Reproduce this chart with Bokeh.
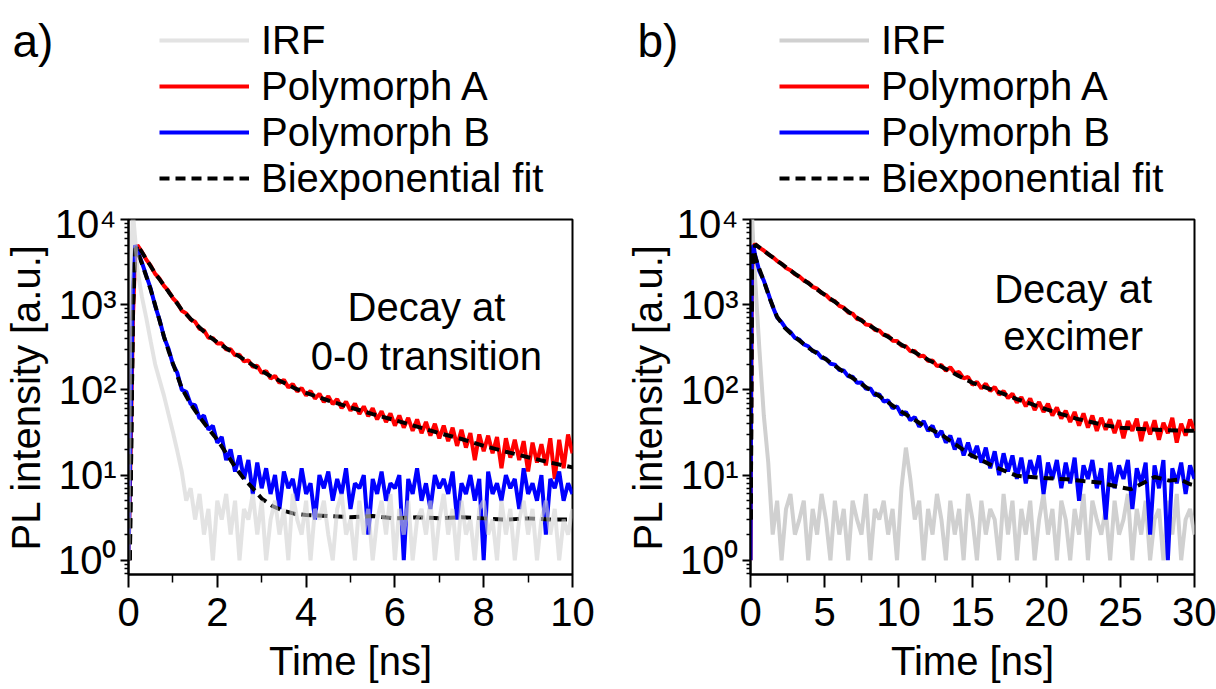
from bokeh.plotting import figure
from bokeh.models import Range1d, Legend, LegendItem, Label, FixedTicker
from bokeh.layouts import row, column
from bokeh.embed import file_html
from bokeh.resources import INLINE

FONT = "Liberation Sans"
FS = "40px"

# ---------------- Panel a: decay at 0-0 transition (0-10 ns) ----------------
t_a_early = [0.0, 0.05, 0.1, 0.15, 0.2]
t_a_step = 0.1
t_a_start = 0.3

irf_a = [1, 3000, 12000, 6000, 2600,
         1250, 700, 370, 200, 130, 85, 52, 32, 19, 11,
         5, 7, 3, 6, 2, 4, 1, 5, 3, 6,
         2, 5, 1, 4, 3, 6, 2, 5, 1, 3,
         5, 2, 4, 1, 6, 3, 2, 5, 1, 4,
         3, 5, 2, 1, 4, 6, 2, 3, 1, 5,
         2, 4, 1, 3, 5, 2, 6, 1, 4, 2,
         5, 1, 3, 4, 2, 5, 1, 3, 6, 2,
         4, 1, 5, 2, 3, 1, 4, 5, 2, 3,
         1, 5, 2, 4, 1, 3, 5, 2, 4, 1,
         3, 5, 2, 4, 1, 3, 2, 4]

polyA_a = [1, 20, 700, 3800, 5000,
           4200, 3380, 2870, 2300, 2020, 1660, 1450, 1190, 1050, 850,
           790, 670, 630, 520, 500, 410, 405, 350, 352, 298,
           300, 255, 258, 216, 222, 186, 192, 158, 166, 136,
           146, 121, 131, 107, 117, 96, 105, 86, 97, 79,
           90, 72, 84, 68, 78, 61, 73, 57, 69, 52,
           64, 49, 61, 45, 56, 42, 53, 38, 50, 36,
           47, 33, 45, 31, 42, 29, 40, 27, 38, 25,
           36, 22, 34, 21, 31, 15, 30, 19, 29, 18,
           28, 12, 27, 16, 26, 15, 25, 11, 24, 14,
           23, 13, 27, 9, 26, 12, 30, 18]

polyB_a = [1, 40, 1500, 5000, 4300,
           3150, 2200, 1540, 970, 665, 415, 305, 200, 158, 100,
           95, 68, 66, 46, 50, 34, 38, 24, 28, 15,
           20, 11, 17, 9, 15, 6, 14, 7,
           12, 6, 10, 4, 11, 7, 9, 5, 12, 6,
           8, 3, 10, 7, 11, 5, 9, 6, 12, 4,
           8, 7, 10, 2, 9, 6, 11, 5, 8, 7,
           10, 1, 9, 6, 12, 5, 8, 4, 10, 7,
           9, 6, 11, 3, 8, 6, 10, 5, 9, 1,
           11, 6, 8, 5, 10, 7, 9, 4, 12, 6,
           8, 5, 10, 2, 9, 7, 11, 5, 8, 6]

fit_t_a = [0.03, 0.1, 0.15, 0.2, 0.3, 0.4, 0.5, 0.6, 0.7, 0.8, 0.9, 1.0, 1.2, 1.4,
           1.6, 1.8, 2.0, 2.2, 2.4, 2.6, 2.8, 3.0, 3.25, 3.5, 3.75, 4.0, 4.5, 5.0,
           5.5, 6.0, 6.5, 7.0, 7.5, 8.0, 8.5, 9.0, 9.5, 10.0]
fitA_a = [1, 900, 4000, 5000, 4150, 3420, 2830, 2330, 1980, 1680, 1420, 1210, 870, 680,
          540, 430, 362, 308, 265, 228, 195, 167, 140, 121, 104, 92, 75, 62,
          52, 44, 37, 31, 26.5, 22, 18.8, 16.2, 14, 12.3]
fitB_a = [1, 900, 4600, 4300, 3050, 2150, 1500, 990, 650, 420, 290, 205, 105, 68,
          48, 35, 26, 18, 12.5, 9, 7, 5.3, 4.3, 3.8, 3.5, 3.4, 3.3, 3.2,
          3.3, 3.1, 3.2, 3.1, 3.2, 3.1, 3.0, 3.1, 3.0, 3.0]

# ---------------- Panel b: decay at excimer (0-30 ns) ----------------
t_b_early = [0.0, 0.05, 0.1, 0.2]
t_b_step = 0.3
t_b_start = 0.3

irf_b = [1, 2000, 12000, 4500,
         2200, 300, 50, 14, 2, 5, 1, 4, 6, 2,
         3, 5, 1, 4, 2, 6, 3, 1, 5, 2,
         4, 1, 5, 3, 2, 6, 1, 4, 3, 5,
         2, 4, 1, 7, 21, 9, 3, 5, 1, 4,
         2, 6, 3, 1, 5, 2, 4, 1, 6, 3,
         1, 5, 2, 4, 3, 1, 6, 2, 5, 1,
         4, 2, 5, 1, 3, 6, 2, 4, 1, 5,
         3, 1, 4, 2, 6, 1, 5, 3, 2, 4,
         1, 5, 2, 3, 6, 1, 4, 2, 5, 1,
         3, 4, 1, 5, 2, 6, 1, 3, 4, 2]

polyA_b = [1, 100, 2500, 4800,
           5150, 4680, 4330, 3900, 3620, 3250, 3030, 2700, 2540, 2280,
           2150, 1920, 1820, 1620, 1540, 1370, 1300, 1150, 1100, 970,
           925, 810, 785, 680, 665, 585, 575, 505, 498, 440,
           432, 378, 375, 330, 325, 284, 285, 248, 252, 218,
           222, 190, 196, 168, 184, 157, 162, 136, 142, 115,
           124, 104, 118, 97, 108, 88, 97, 80, 90, 71,
           82, 64, 79, 58, 72, 55, 69, 50, 62, 46,
           57, 42, 55, 38, 53, 36, 50, 33, 47, 34,
           45, 31, 44, 27, 43, 33, 46, 25, 42, 30,
           44, 26, 41, 31, 47, 24, 40, 29, 45, 33]

polyB_b = [1, 300, 4200, 5000,
           3900, 2470, 1920, 1360, 950, 705, 625, 525, 478, 408,
           388, 342, 325, 285, 277, 238, 232, 203, 198, 171,
           169, 144, 143, 121, 122, 103, 104, 86, 89, 73,
           75, 61, 64, 51, 55, 44, 48, 37, 43, 33,
           38, 28, 33, 24, 29, 20, 27, 17, 24, 16,
           22, 14, 21, 12, 19, 10, 18, 11, 17, 9,
           16, 8, 15, 10, 17, 6, 14, 9, 15, 7,
           14, 8, 16, 5, 13, 9, 15, 7, 12, 3,
           14, 7, 13, 9, 15, 4, 12, 8, 14, 2,
           13, 7, 15, 1, 12, 8, 14, 6, 13, 9]

fitA_t_b = [0.02, 0.1, 0.32, 1, 2, 3, 4, 5, 6, 7, 8, 9, 10, 11, 12, 13, 14, 15,
            16, 17, 18, 19, 20, 21, 22, 23, 24, 25, 26, 27, 28, 29, 30]
fitA_b = [3, 2500, 5100, 4170, 3090, 2310, 1740, 1310, 990, 740, 575, 450, 355, 282,
          226, 183, 148, 121, 105, 91, 78, 68, 59, 52, 46, 42, 38.3, 36, 35, 34.3,
          33.7, 33.3, 33]
fitB_t_b = [0.02, 0.1, 0.2, 0.5, 0.88, 1.3, 1.78, 2.3, 2.9, 4, 5.15, 6.3, 7.4, 8.8,
            10.3, 11.6, 13, 14.8, 16.5, 18, 19.5, 21.4, 22.5, 23.7, 24.8, 25.7, 26.5,
            27.3, 28.3, 29.0, 29.7, 30]
fitB_b = [3, 4000, 4300, 2900, 1950, 1180, 730, 540, 430, 305, 225, 162, 120, 82,
          54, 39, 29, 17.5, 12.5, 9.8, 9.3, 8.9, 8.5, 8.1, 7.3, 6.8, 8, 9.5,
          8.6, 8.9, 7.8, 7.6]

legend_labels = ["IRF", "Polymorph A", "Polymorph B", "Biexponential fit"]
y_tick_labels = {1: "10⁰", 10: "10¹", 100: "10²", 1000: "10³", 10000: "10⁴"}

RED = dict(line_color="#ff0000", line_width=4)
BLUE = dict(line_color="#0000ff", line_width=4)
FIT = dict(line_color="black", line_width=4, line_dash="10 6")

W_A = 620
W_B = 592


def irf_style(on_top):
    return dict(line_color="#d0d0d0", line_width=4, line_alpha=0.6 if on_top else 1.0)


def grid(early, start, step, n):
    return early + [round(start + step * i, 3) for i in range(n - len(early))]


t_a = grid(t_a_early, t_a_start, t_a_step, len(polyA_a))
t_b = grid(t_b_early, t_b_start, t_b_step, len(polyA_b))

# ---------------- header: panel tags and legends ----------------
head = figure(width=W_A + W_B, height=201, x_range=Range1d(0, 10), y_range=Range1d(1, 1e4),
              y_axis_type="log", min_border_left=0, min_border_right=0,
              min_border_top=0, min_border_bottom=0,
              x_axis_location=None, y_axis_location=None,
              output_backend="svg", toolbar_location=None)
head.outline_line_color = None
head.xgrid.visible = False
head.ygrid.visible = False


def add_legend(t, irf, pa, pb, ft, fit, irf_on_top, lx):
    r_irf = head.line(t, irf, visible=False, **irf_style(irf_on_top))
    rA = head.line(t, pa, visible=False, **RED)
    rB = head.line(t, pb, visible=False, **BLUE)
    rF = head.line(ft, fit, visible=False, **FIT)
    legend = Legend(items=[LegendItem(label=legend_labels[0], renderers=[r_irf]),
                           LegendItem(label=legend_labels[1], renderers=[rA]),
                           LegendItem(label=legend_labels[2], renderers=[rB]),
                           LegendItem(label=legend_labels[3], renderers=[rF])],
                    location=(lx, 0), orientation="vertical",
                    glyph_width=90, glyph_height=46, label_height=46,
                    label_standoff=12, spacing=0, padding=0, margin=0,
                    label_text_font=FONT, label_text_font_size=FS,
                    label_text_color="black",
                    inactive_fill_alpha=0,
                    background_fill_alpha=0, border_line_alpha=0)
    head.add_layout(legend)


add_legend(t_a, irf_a, polyA_a, polyB_a, fit_t_a, fitA_a, True, 159)
add_legend(t_b, irf_b, polyA_b, polyB_b, fitA_t_b, fitA_b, False, 779)
for tag, tx in (("a)", 12), ("b)", 637)):
    head.add_layout(Label(x=tx, y=161, x_units="screen", y_units="screen", text=tag,
                          text_font=FONT, text_font_size="46px", text_color="black",
                          text_baseline="alphabetic"))


def build(t, irf, pa, pb, ftA, fA, ftB, fB, x_end, x_major, x_minor,
          right, note, note_x, note_y, irf_on_top):
    p = figure(frame_width=444, frame_height=355,
               min_border_left=126, min_border_right=right,
               min_border_top=18, min_border_bottom=110,
               x_range=Range1d(0, x_end), y_range=Range1d(0.68, 1e4),
               y_axis_type="log", output_backend="svg", toolbar_location=None)
    p.xgrid.visible = False
    p.ygrid.visible = False
    p.outline_line_color = "black"
    p.outline_line_width = 2
    p.outline_line_alpha = 1.0

    if not irf_on_top:
        p.line(t, irf, **irf_style(False))
    p.line(t, pa, **RED)
    p.line(t, pb, **BLUE)
    p.line(ftA, fA, **FIT)
    p.line(ftB, fB, **FIT)
    if irf_on_top:
        p.line(t, irf, **irf_style(True))

    xa = p.xaxis[0]
    ya = p.yaxis[0]
    xa.ticker = FixedTicker(ticks=x_major, minor_ticks=x_minor)
    ya.ticker = FixedTicker(
        ticks=[1, 10, 100, 1000, 10000],
        minor_ticks=[0.7, 0.8, 0.9] + [m * 10 ** k for k in range(4) for m in range(2, 10)])
    ya.major_label_overrides = y_tick_labels
    for ax in (xa, ya):
        ax.axis_line_width = 2
        ax.major_tick_line_width = 2
        ax.minor_tick_line_width = 1.5
        ax.major_tick_in = 0
        ax.minor_tick_in = 0
        ax.major_label_text_font = FONT
        ax.major_label_text_font_size = FS
        ax.major_label_text_color = "black"
        ax.axis_label_text_font = FONT
        ax.axis_label_text_font_size = FS
        ax.axis_label_text_font_style = "normal"
        ax.axis_label_text_color = "black"
    xa.major_tick_out = 13
    xa.minor_tick_out = 8
    ya.major_tick_out = 8
    ya.minor_tick_out = 4
    xa.major_label_standoff = 10
    xa.axis_label_standoff = 10
    ya.major_label_standoff = 4
    ya.axis_label_standoff = 4
    xa.axis_label = "Time [ns]"
    ya.axis_label = "PL intensity [a.u.]"

    for line, yv in zip(note, note_y):
        p.add_layout(Label(x=note_x, y=yv, text=line, text_align="center",
                           text_baseline="alphabetic", text_font=FONT,
                           text_font_size=FS, text_color="black"))
    return p


pa = build(t_a, irf_a, polyA_a, polyB_a, fit_t_a, fitA_a, fit_t_a, fitB_a,
           10, [0, 2, 4, 6, 8, 10], [1, 3, 5, 7, 9], W_A - 126 - 444,
           ["Decay at", "0-0 transition"], 6.71, [946, 250], True)
pb = build(t_b, irf_b, polyA_b, polyB_b, fitA_t_b, fitA_b, fitB_t_b, fitB_b,
           30, [0, 5, 10, 15, 20, 25, 30], [2.5, 7.5, 12.5, 17.5, 22.5, 27.5],
           W_B - 126 - 444, ["Decay at", "excimer"], 21.8, [1540, 432], False)

layout = column(head, row(pa, pb, spacing=0), spacing=0)
open("out.html", "w").write(file_html(layout, INLINE))
